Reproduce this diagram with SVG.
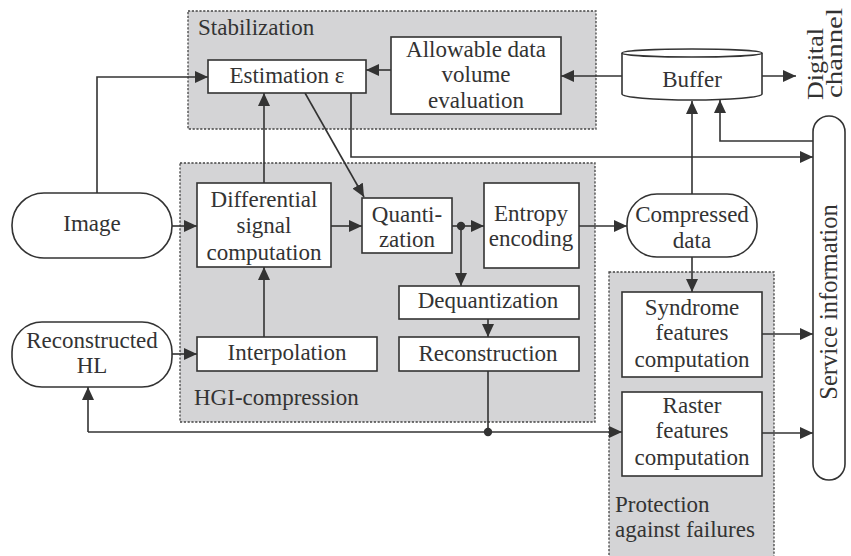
<svg xmlns="http://www.w3.org/2000/svg" width="851" height="556" viewBox="0 0 851 556" font-family="Liberation Serif, Times New Roman, serif" font-size="23">
<defs>
<marker id="ah" markerUnits="userSpaceOnUse" markerWidth="14" markerHeight="12" refX="13" refY="6" orient="auto">
<path d="M0,0 L13,6 L0,12 Z" fill="#333"/>
</marker>
<style>
text{fill:#333;}
.c{text-anchor:middle;}
.grp{fill:#d4d4d6;stroke:#444;stroke-width:1.3;stroke-dasharray:2.2 1.6;}
.box{fill:#fff;stroke:#333;stroke-width:1.6;}
.ln{fill:none;stroke:#333;stroke-width:1.6;}
.ar{fill:none;stroke:#333;stroke-width:1.6;marker-end:url(#ah);}
.dot{fill:#333;}
</style>
</defs>
<rect width="851" height="556" fill="#fff"/>
<g id="groups">
<rect class="grp" x="188" y="11" width="408" height="118"/>
<rect class="grp" x="180" y="163" width="415" height="259"/>
<rect class="grp" x="609" y="272" width="165" height="290"/>
<text x="198" y="35">Stabilization</text>
<text x="194" y="405">HGI-compression</text>
<text x="615" y="512">Protection</text>
<text x="615" y="537">against failures</text>
</g>
<g id="connectors">
<polyline class="ar" points="97,193 97,77 208,77"/>
<line class="ar" x1="391" y1="70" x2="366" y2="70"/>
<line class="ar" x1="622" y1="76" x2="561" y2="76"/>
<line class="ar" x1="762" y1="76" x2="796" y2="76"/>
<line class="ar" x1="264" y1="183" x2="264" y2="93"/>
<polyline class="ar" points="351,93 351,157 813,157"/>
<line class="ar" x1="692" y1="194" x2="692" y2="101"/>
<polyline class="ar" points="813,141 720,141 720,100"/>
<line class="ar" x1="305" y1="93" x2="364" y2="197"/>
<line class="ar" x1="172" y1="226" x2="197" y2="226"/>
<line class="ar" x1="331" y1="226" x2="362" y2="226"/>
<line class="ar" x1="452" y1="226" x2="484" y2="226"/>
<line class="ar" x1="579" y1="226" x2="627" y2="226"/>
<line class="ar" x1="461" y1="226" x2="461" y2="286"/>
<line class="ar" x1="488" y1="319" x2="488" y2="337"/>
<line class="ln" x1="488" y1="371" x2="488" y2="432"/>
<line class="ar" x1="88" y1="432" x2="622" y2="432"/>
<line class="ar" x1="88" y1="432" x2="88" y2="387"/>
<line class="ar" x1="172" y1="354" x2="197" y2="354"/>
<line class="ar" x1="264" y1="337" x2="264" y2="267"/>
<line class="ar" x1="692" y1="257" x2="692" y2="292"/>
<line class="ar" x1="762" y1="334" x2="813" y2="334"/>
<line class="ar" x1="762" y1="433" x2="813" y2="433"/>
<circle class="dot" cx="461" cy="226" r="4.2"/>
<circle class="dot" cx="488" cy="432" r="4.2"/>
</g>
<g id="estimation">
<rect class="box" x="208" y="60" width="158" height="33"/>
<text class="c" x="287" y="83">Estimation ε</text>
</g>
<g id="allowable">
<rect class="box" x="391" y="37" width="170" height="77"/>
<text class="c" x="476" y="57">Allowable data</text>
<text class="c" x="476" y="82">volume</text>
<text class="c" x="476" y="108">evaluation</text>
</g>
<g id="buffer">
<path class="box" d="M622,53 L622,94 A70,6 0 0 0 762,94 L762,53 A70,4 0 0 0 622,53 Z"/>
<path class="ln" d="M622,53 A70,4 0 0 0 762,53"/>
<text class="c" x="692" y="87">Buffer</text>
</g>
<g id="digital-channel">
<text transform="translate(823,100) rotate(-90)" font-size="24" textLength="72" lengthAdjust="spacingAndGlyphs">Digital</text>
<text transform="translate(842,98) rotate(-90)" font-size="24" textLength="90" lengthAdjust="spacingAndGlyphs">channel</text>
</g>
<g id="service-information">
<rect class="box" x="813" y="116" width="32" height="364" rx="16"/>
<text class="c" transform="translate(837,302) rotate(-90)" font-size="24.5">Service information</text>
</g>
<g id="image">
<rect class="box" x="12" y="193" width="160" height="65" rx="32"/>
<text class="c" x="92" y="231">Image</text>
</g>
<g id="differential">
<rect class="box" x="197" y="183" width="134" height="84"/>
<text class="c" x="264" y="207">Differential</text>
<text class="c" x="264" y="233">signal</text>
<text class="c" x="264" y="260">computation</text>
</g>
<g id="quantization">
<rect class="box" x="362" y="198" width="90" height="55"/>
<text class="c" x="407" y="222">Quanti-</text>
<text class="c" x="407" y="247">zation</text>
</g>
<g id="entropy">
<rect class="box" x="484" y="183" width="95" height="85"/>
<text class="c" x="531" y="221">Entropy</text>
<text class="c" x="531" y="246">encoding</text>
</g>
<g id="compressed-data">
<rect class="box" x="627" y="194" width="130" height="63" rx="30"/>
<text class="c" x="692" y="222">Compressed</text>
<text class="c" x="692" y="248">data</text>
</g>
<g id="dequantization">
<rect class="box" x="399" y="286" width="180" height="33"/>
<text class="c" x="488" y="308">Dequantization</text>
</g>
<g id="reconstruction">
<rect class="box" x="399" y="337" width="180" height="34"/>
<text class="c" x="488" y="361">Reconstruction</text>
</g>
<g id="interpolation">
<rect class="box" x="197" y="337" width="180" height="34"/>
<text class="c" x="287" y="360">Interpolation</text>
</g>
<g id="reconstructed-hl">
<rect class="box" x="12" y="322" width="160" height="65" rx="30"/>
<text class="c" x="92" y="348">Reconstructed</text>
<text class="c" x="92" y="373">HL</text>
</g>
<g id="syndrome">
<rect class="box" x="622" y="292" width="140" height="85"/>
<text class="c" x="692" y="315">Syndrome</text>
<text class="c" x="692" y="340">features</text>
<text class="c" x="692" y="367">computation</text>
</g>
<g id="raster">
<rect class="box" x="622" y="392" width="140" height="84"/>
<text class="c" x="692" y="413">Raster</text>
<text class="c" x="692" y="438">features</text>
<text class="c" x="692" y="465">computation</text>
</g>
</svg>
